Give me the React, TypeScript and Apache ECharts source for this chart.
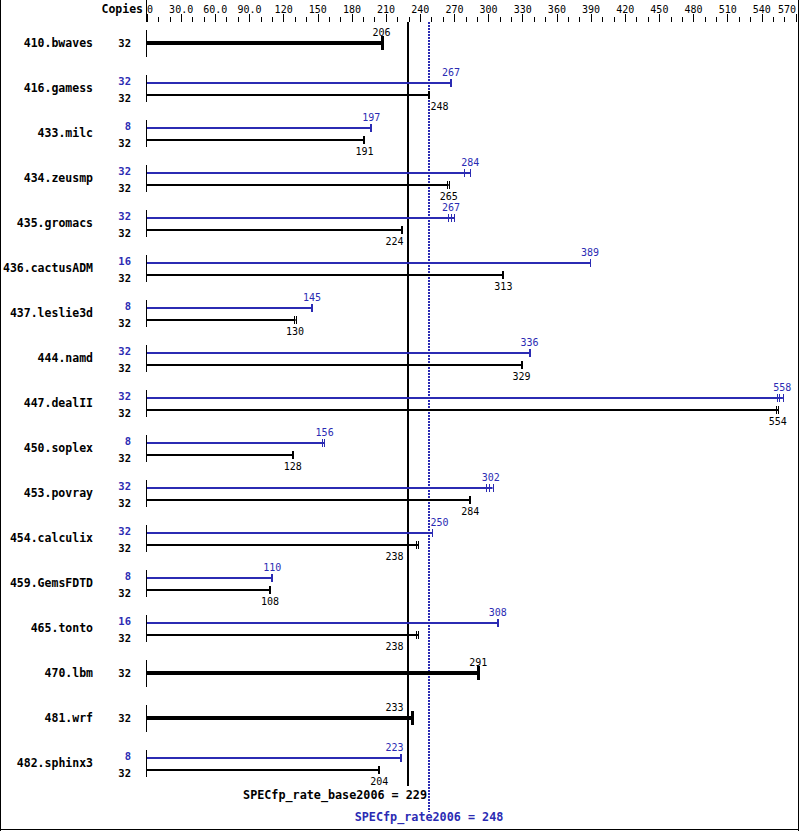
import React, { useEffect, useRef } from 'react';
import * as echarts from 'echarts';

const benchmarks = ['410.bwaves', '416.gamess', '433.milc', '434.zeusmp', '435.gromacs', '436.cactusADM', '437.leslie3d', '444.namd', '447.dealII', '450.soplex', '453.povray', '454.calculix', '459.GemsFDTD', '465.tonto', '470.lbm', '481.wrf', '482.sphinx3'];
const baseCopies = [32, 32, 32, 32, 32, 32, 32, 32, 32, 32, 32, 32, 32, 32, 32, 32, 32];
const peakCopies: (number | null)[] = [null, 32, 8, 32, 32, 16, 8, 32, 32, 8, 32, 32, 8, 16, null, null, 8];
const baseScores = [206, 248, 191, 265, 224, 313, 130, 329, 554, 128, 284, 238, 108, 238, 291, 233, 204];
const peakScores: (number | null)[] = [null, 267, 197, 284, 267, 389, 145, 336, 558, 156, 302, 250, 110, 308, null, null, 223];
const baseRuns: number[][] = [[206], [246.5, 248], [191], [263.5, 265], [223.5, 224], [313], [129, 130.5], [329], [552, 554.5], [127.5, 128], [284], [236.5, 238], [108], [236.5, 238], [291], [233], [204]];
const peakRuns: (number[] | null)[] = [null, [267], [197], [278, 284], [264, 267, 270], [389, 389.5], [145], [336], [553, 555.5, 558.5], [154, 155.5], [298, 300.5, 303.5], [250, 250.5], [110], [308], null, null, [222.5, 223]];
const baseMean = 229;
const peakMean = 248;
const axisMax = 570;
const tickStep = 30;
const tickLabels = ['0', '30.0', '60.0', '90.0', '120', '150', '180', '210', '240', '270', '300', '330', '360', '390', '420', '450', '480', '510', '540', '570'];

const BLUE = '#2b2bb3';
const BLACK = '#000000';
const MONO = '"DejaVu Sans Mono", "Liberation Mono", monospace';

type Bar = { row: number; kind: 'single' | 'base' | 'peak'; score: number; runs: number[]; copies: number };

const bars: Bar[] = [];
benchmarks.forEach((_, i) => {
  const ps = peakScores[i];
  const pr = peakRuns[i];
  if (ps == null || pr == null) {
    bars.push({ row: i, kind: 'single', score: baseScores[i], runs: baseRuns[i], copies: baseCopies[i] });
  } else {
    bars.push({ row: i, kind: 'peak', score: ps, runs: pr, copies: peakCopies[i] as number });
    bars.push({ row: i, kind: 'base', score: baseScores[i], runs: baseRuns[i], copies: baseCopies[i] });
  }
});

// label left edge: centred on the value unless it would cross a mean line,
// in which case it goes left of the base line or right of the peak line.
function placeLabel(cx: number, w: number, xb: number, xp: number): number {
  const lines = [xb, xp];
  const overlaps = (l: number) => lines.some((L) => L >= l - 1 && L <= l + w + 1);
  const centered = cx - w / 2;
  if (!overlaps(centered)) return centered;
  const leftOpt = xb - 4.5 - w;
  const rightOpt = xp + 1.5;
  return cx < xp - 5 ? leftOpt : rightOpt;
}

export default function App() {
  const ref = useRef<HTMLDivElement>(null);
  useEffect(() => {
    document.body.style.margin = '0';
    const chart = echarts.init(ref.current!, null, { renderer: 'svg' });

    const renderBar = (params: any, api: any) => {
      const b = bars[params.dataIndex];
      const row = api.value(1);
      const [x0, cy] = api.coord([0, row]);
      const off = b.kind === 'peak' ? -5.5 : b.kind === 'base' ? 6.5 : 0;
      const yLine = Math.round(cy + off);
      const color = b.kind === 'peak' ? BLUE : BLACK;
      const thick = b.kind === 'single';
      const runsPx = b.runs.map((r) => api.coord([r, row])[0]);
      const xEnd = Math.max(...runsPx);
      const children: any[] = [];
      children.push({
        type: 'line',
        shape: { x1: x0, y1: yLine, x2: xEnd, y2: yLine },
        style: { stroke: color, lineWidth: thick ? 4 : 2 },
      });
      const multi = b.runs.length > 1;
      runsPx.forEach((px) => {
        const tw = thick ? 3 : multi ? 1 : 2;
        const h = thick ? 7 : 4;
        const xx = tw === 2 ? Math.round(px) : Math.round(px) + 0.5;
        children.push({
          type: 'line',
          shape: { x1: xx, y1: yLine - h, x2: xx, y2: yLine + h },
          style: { stroke: color, lineWidth: tw },
        });
      });
      const xb = Math.round(api.coord([baseMean, row])[0]);
      const xp = Math.round(api.coord([peakMean, row])[0]);
      const txt = String(b.score);
      const w = txt.length * 6.02;
      const sx = api.coord([b.score, row])[0];
      const left = placeLabel(sx, w, xb, xp);
      const ly = b.kind === 'base' ? yLine + 11.5 : b.kind === 'peak' ? yLine - 10.5 : yLine - 11;
      children.push({
        type: 'text',
        style: { text: txt, x: left, y: ly, align: 'left', verticalAlign: 'middle', font: `10px ${MONO}`, fill: color },
      });
      const cyText = b.kind === 'base' ? yLine + 3 : b.kind === 'peak' ? yLine - 2.5 : cy;
      children.push({
        type: 'text',
        style: { text: String(b.copies), x: x0 - 16, y: cyText, align: 'right', verticalAlign: 'middle', font: `bold 10.5px ${MONO}`, fill: color },
      });
      return { type: 'group', children };
    };

    const renderRow = (params: any, api: any) => {
      const [x0, cy] = api.coord([0, api.value(1)]);
      return {
        type: 'line',
        shape: { x1: x0 - 0.5, y1: cy - 13, x2: x0 - 0.5, y2: cy + 14 },
        style: { stroke: BLACK, lineWidth: 1 },
      };
    };

    chart.setOption({
      animation: false,
      grid: { left: 147, top: 20.5, width: 650.5, height: 765 },
      xAxis: {
        type: 'value',
        position: 'top',
        min: 0,
        max: axisMax,
        interval: tickStep,
        offset: -1.5,
        axisLine: { show: false },
        splitLine: { show: false },
        axisTick: { show: true, length: 8, lineStyle: { color: BLACK, width: 1 } },
        minorTick: { show: true, splitNumber: 3, length: 5, lineStyle: { color: BLACK, width: 1 } },
        axisLabel: {
          margin: 8,
          fontFamily: MONO,
          fontSize: 10,
          color: BLACK,
          formatter: (v: number) => tickLabels[Math.round(v / tickStep)] ?? '',
          alignMinLabel: 'left',
          alignMaxLabel: 'right',
        },
      },
      yAxis: {
        type: 'category',
        inverse: true,
        data: benchmarks,
        axisLine: { show: false },
        axisTick: { show: false },
        splitLine: { show: false },
        axisLabel: { margin: 54, fontFamily: MONO, fontWeight: 'bold', fontSize: 11.5, color: BLACK },
      },
      series: [
        {
          type: 'custom',
          renderItem: renderRow,
          data: benchmarks.map((_, i) => [0, i]),
          encode: { x: 0, y: 1 },
          clip: false,
          silent: true,
        },
        {
          type: 'custom',
          renderItem: renderBar,
          data: bars.map((b) => [b.score, b.row]),
          encode: { x: 0, y: 1 },
          clip: false,
          silent: true,
        },
      ],
    });

    const xb = Math.round(chart.convertToPixel({ xAxisIndex: 0 }, baseMean) as number);
    const xp = Math.round(chart.convertToPixel({ xAxisIndex: 0 }, peakMean) as number);
    const x0 = chart.convertToPixel({ xAxisIndex: 0 }, 0) as number;

    chart.setOption({
      graphic: [
        { type: 'line', silent: true, shape: { x1: 0.5, y1: 0, x2: 0.5, y2: 831 }, style: { stroke: BLACK, lineWidth: 1 } },
        { type: 'line', silent: true, shape: { x1: 798.5, y1: 0, x2: 798.5, y2: 831 }, style: { stroke: BLACK, lineWidth: 1 } },
        { type: 'line', silent: true, shape: { x1: 0, y1: 829.5, x2: 799, y2: 829.5 }, style: { stroke: BLACK, lineWidth: 1 } },
        { type: 'line', silent: true, shape: { x1: x0 - 0.5, y1: 0, x2: x0 - 0.5, y2: 22 }, style: { stroke: BLACK, lineWidth: 1 } },
        { type: 'line', silent: true, shape: { x1: xb, y1: 22, x2: xb, y2: 786 }, style: { stroke: BLACK, lineWidth: 2 } },
        { type: 'line', silent: true, shape: { x1: xp, y1: 22, x2: xp, y2: 812 }, style: { stroke: BLUE, lineWidth: 2, lineDash: [2, 1] } },
        {
          type: 'text', silent: true, x: x0 - 4, y: 9,
          style: { text: 'Copies', align: 'right', verticalAlign: 'middle', font: `bold 11.5px ${MONO}`, fill: BLACK },
        },
        {
          type: 'text', silent: true, x: xb + 19, y: 795,
          style: { text: `SPECfp_rate_base2006 = ${baseMean}`, align: 'right', verticalAlign: 'middle', font: `bold 11.75px ${MONO}`, fill: BLACK },
        },
        {
          type: 'text', silent: true, x: xp, y: 817,
          style: { text: `SPECfp_rate2006 = ${peakMean}`, align: 'center', verticalAlign: 'middle', font: `bold 11.75px ${MONO}`, fill: BLUE },
        },
      ],
    });

    return () => chart.dispose();
  }, []);
  return <div ref={ref} style={{ width: 799, height: 831 }} />;
}
